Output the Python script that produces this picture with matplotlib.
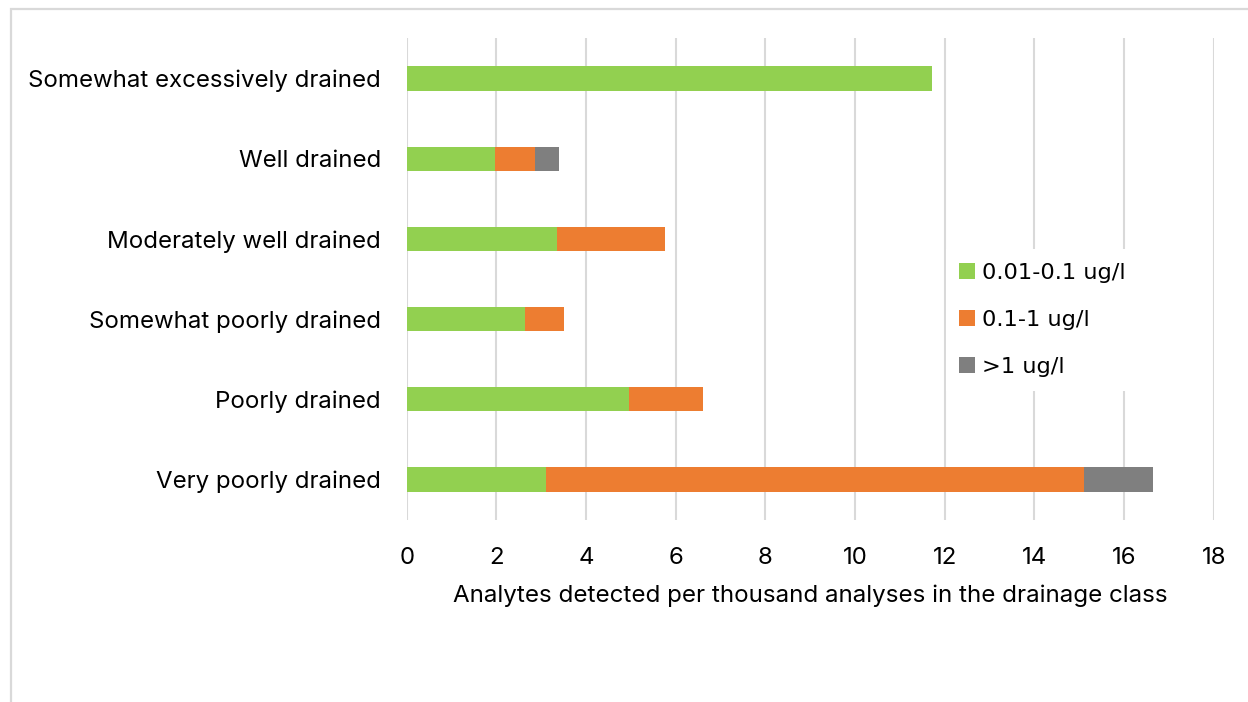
import matplotlib.pyplot as plt
from matplotlib.patches import Rectangle, Patch

categories = [
    "Somewhat excessively drained",
    "Well drained",
    "Moderately well drained",
    "Somewhat poorly drained",
    "Poorly drained",
    "Very poorly drained",
]
low = [11.72, 1.96, 3.35, 2.64, 4.96, 3.10]      # 0.01-0.1 ug/l
mid = [0.00, 0.91, 2.41, 0.87, 1.65, 12.00]     # 0.1-1 ug/l
high = [0.00, 0.53, 0.00, 0.00, 0.00, 1.55]     # >1 ug/l
series_labels = ["0.01-0.1 ug/l", "0.1-1 ug/l", ">1 ug/l"]
colors = ["#92D050", "#ED7D31", "#7F7F7F"]
xticks = [0, 2, 4, 6, 8, 10, 12, 14, 16, 18]
xlabel = "Analytes detected per thousand analyses in the drainage class"

main_font = ["Inter", "DejaVu Sans"]
legend_font = ["DejaVu Sans"]
W, H = 1248, 702

fig = plt.figure(figsize=(W / 100, H / 100), dpi=100)
fig.patch.set_facecolor("white")

# Outer chart-area border (top and left edges visible)
fig.add_artist(Rectangle((11 / W, -0.1), 1.2, 1 - 9 / H + 0.1,
                         transform=fig.transFigure, fill=False,
                         edgecolor="#D9D9D9", linewidth=1.6, zorder=0))

ax_left, ax_right, ax_top, ax_bottom = 406.7, 1213.7, 38.4, 519.6
ax = fig.add_axes([ax_left / W, 1 - ax_bottom / H,
                   (ax_right - ax_left) / W, (ax_bottom - ax_top) / H])

y = list(range(len(categories)))
h = 0.30
left2 = list(low)
left3 = [a + b for a, b in zip(low, mid)]
ax.barh(y, low, height=h, color=colors[0], zorder=2)
ax.barh(y, mid, left=left2, height=h, color=colors[1], zorder=2)
ax.barh(y, high, left=left3, height=h, color=colors[2], zorder=2)

ax.set_xlim(0, 18)
ax.set_ylim(len(categories) - 0.5, -0.5)
ax.set_xticks(xticks)
ax.set_yticks(y)
ax.set_yticklabels(categories)
ax.grid(axis="x", color="#D9D9D9", linewidth=1.5, zorder=0)
ax.set_axisbelow(True)
for s in ax.spines.values():
    s.set_visible(False)
ax.tick_params(axis="both", length=0, labelsize=17.3)
ax.tick_params(axis="y", pad=18.5)
ax.tick_params(axis="x", pad=19.5)
for lab in ax.get_xticklabels() + ax.get_yticklabels():
    lab.set_family(main_font)
    lab.set_color("#000000")
ax.set_xlabel(xlabel, fontsize=17.4, family=main_font, labelpad=11.5)

handles = [Patch(facecolor=c, edgecolor="none") for c in colors]
leg_x, leg_y = 945.5, 249
leg = ax.legend(handles, series_labels, loc="upper left",
                bbox_to_anchor=((leg_x - ax_left) / (ax_right - ax_left),
                                1 - (leg_y - ax_top) / (ax_bottom - ax_top)),
                frameon=True, fancybox=False, framealpha=1,
                prop={"family": legend_font, "size": 16.2},
                handlelength=0.67, handleheight=0.67, handletextpad=0.31,
                labelspacing=1.2, borderpad=0.62, borderaxespad=0)
leg.get_frame().set_edgecolor("white")
leg.get_frame().set_linewidth(0)

fig.savefig("out.png", dpi=100, facecolor="white")
